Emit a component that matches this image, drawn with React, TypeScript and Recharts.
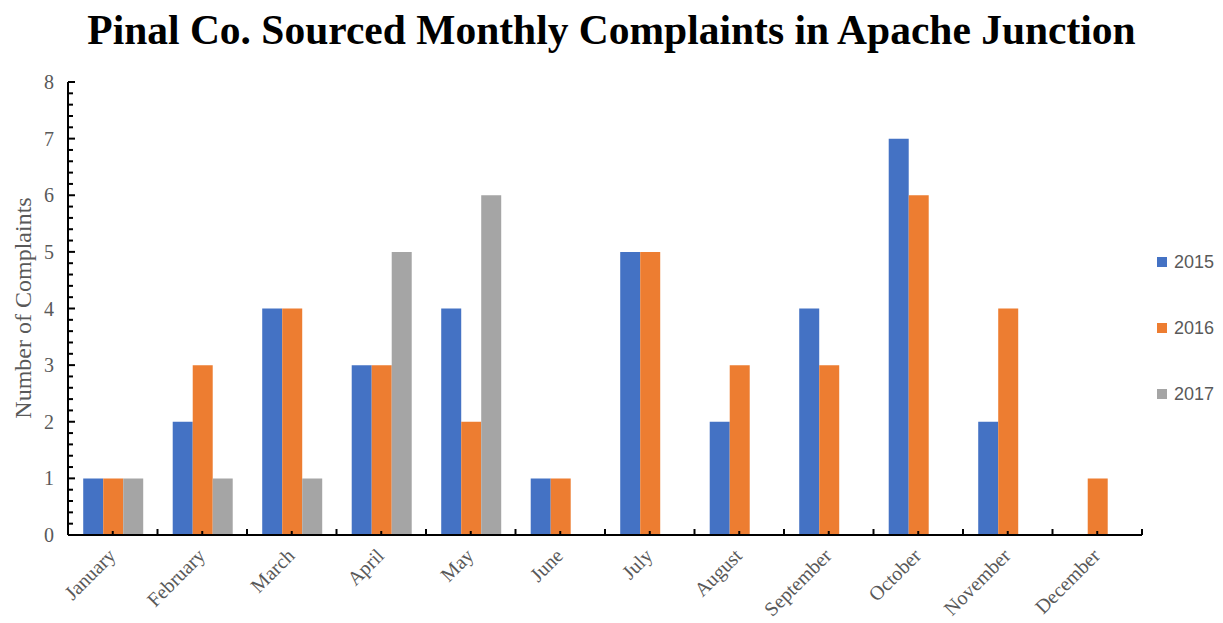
import React from "react";
import { BarChart, Bar, XAxis, YAxis } from "recharts";

const months = ["January","February","March","April","May","June","July","August","September","October","November","December"];
const y2015 = [1, 2, 4, 3, 4, 1, 5, 2, 4, 7, 2, 0];
const y2016 = [1, 3, 4, 3, 2, 1, 5, 3, 3, 6, 4, 1];
const y2017 = [1, 1, 1, 5, 6, 0, 0, 0, 0, 0, 0, 0];
const seriesNames = ["2015", "2016", "2017"];
const seriesColors = ["#4472C4", "#ED7D31", "#A5A5A5"];
const yMax = 8;
const yMinorStep = 0.2;

const data = months.map((m, i) => ({ month: m, "2015": y2015[i], "2016": y2016[i], "2017": y2017[i] }));
const yTicks: number[] = [];
for (let k = 0; k <= Math.round(yMax / yMinorStep); k++) yTicks.push(Math.round(k * yMinorStep * 1000) / 1000);

const GRAY = "#595959";
const SERIF = "'Liberation Serif', 'Times New Roman', serif";

const XTick = (props: any) => {
  const { x, y, payload, index, width, visibleTicksCount } = props;
  const band = width / (visibleTicksCount || months.length);
  const ay = y;
  const tx = x + 4;
  const ty = ay + 22;
  return (
    <g>
      <line x1={x} x2={x} y1={ay} y2={ay - 4} stroke="#000" strokeWidth={2} />
      <line x1={x - band / 2} x2={x - band / 2} y1={ay} y2={ay - 6} stroke="#000" strokeWidth={2} />
      {index === months.length - 1 && (
        <line x1={x + band / 2} x2={x + band / 2} y1={ay} y2={ay - 6} stroke="#000" strokeWidth={2} />
      )}
      <text
        x={tx}
        y={ty}
        textAnchor="end"
        fill={GRAY}
        fontFamily={SERIF}
        fontSize={20}
        transform={`rotate(-45 ${tx} ${ty})`}
      >
        {payload.value}
      </text>
    </g>
  );
};

const YTick = (props: any) => {
  const { x, y, payload } = props;
  const v = payload.value;
  const major = Math.abs(v - Math.round(v)) < 1e-6;
  return (
    <g>
      <line x1={x} x2={x + (major ? 7 : 5)} y1={y} y2={y} stroke="#000" strokeWidth={2} />
      {major && (
        <text x={x - 14} y={y} dy={7} textAnchor="end" fill={GRAY} fontFamily={SERIF} fontSize={20}>
          {Math.round(v)}
        </text>
      )}
    </g>
  );
};

export default function App() {
  return (
    <div style={{ position: "fixed", left: 0, top: 0, width: 1223, height: 623, background: "#fff" }}>
      <div
        style={{
          position: "absolute",
          left: 0,
          top: 6,
          width: 1223,
          textAlign: "center",
          fontFamily: SERIF,
          fontWeight: "bold",
          fontSize: 41.5,
          color: "#000",
        }}
      >
        Pinal Co. Sourced Monthly Complaints in Apache Junction
      </div>
      <div
        style={{
          position: "absolute",
          left: 23,
          top: 308,
          transform: "translate(-50%, -50%) rotate(-90deg)",
          whiteSpace: "nowrap",
          fontFamily: SERIF,
          fontSize: 24,
          color: GRAY,
        }}
      >
        Number of Complaints
      </div>
      <div style={{ position: "absolute", left: 0, top: 0 }}>
        <BarChart
          width={1223}
          height={623}
          data={data}
          margin={{ top: 82, right: 81, bottom: 0, left: 0 }}
          barCategoryGap="17%"
          barGap={0}
        >
          <XAxis
            dataKey="month"
            height={88}
            interval={0}
            tickLine={false}
            tickSize={0}
            tickMargin={0}
            axisLine={{ stroke: "#000", strokeWidth: 2 }}
            tick={<XTick />}
          />
          <YAxis
            width={68}
            type="number"
            domain={[0, yMax]}
            ticks={yTicks}
            interval={0}
            tickLine={false}
            tickSize={0}
            tickMargin={0}
            axisLine={{ stroke: "#000", strokeWidth: 2 }}
            tick={<YTick />}
          />
          {seriesNames.map((n, i) => (
            <Bar key={n} dataKey={n} fill={seriesColors[i]} isAnimationActive={false} />
          ))}
        </BarChart>
      </div>
      <div style={{ position: "absolute", left: 1157, top: 229 }}>
        {seriesNames.map((n, i) => (
          <div key={n} style={{ display: "flex", alignItems: "center", height: 66 }}>
            <div style={{ width: 10, height: 10, background: seriesColors[i], marginRight: 7 }} />
            <span style={{ fontFamily: "'Liberation Sans', Arial, sans-serif", fontSize: 18, color: GRAY }}>{n}</span>
          </div>
        ))}
      </div>
    </div>
  );
}
